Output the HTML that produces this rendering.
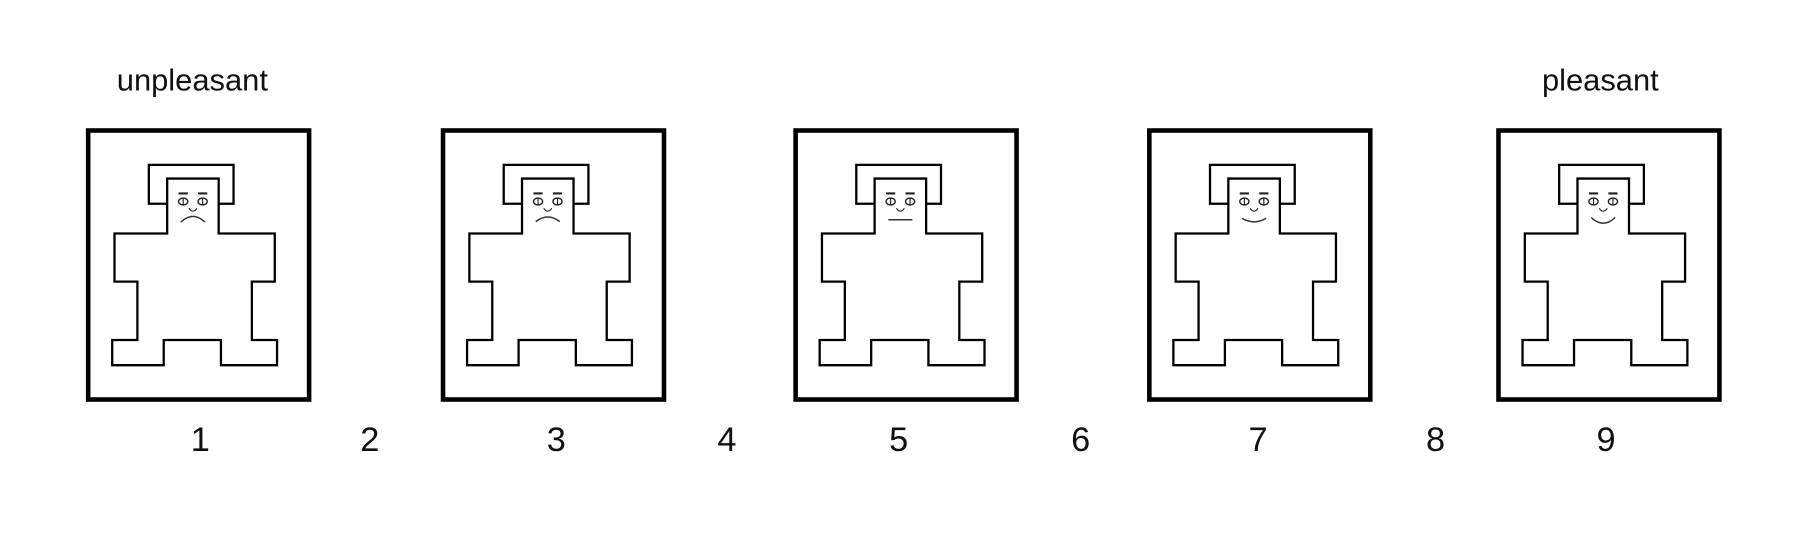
<!DOCTYPE html>
<html><head><meta charset="utf-8"><style>
html,body{margin:0;padding:0;background:#fff}
svg{display:block}
text{font-family:"Liberation Sans",sans-serif;fill:#111}
</style></head><body>
<svg id="chart" width="1795" height="556" viewBox="0 0 1568 485.7" xmlns="http://www.w3.org/2000/svg">
<text x="168" y="79" font-size="27" text-anchor="middle">unpleasant</text>
<text x="1398" y="79" font-size="27" text-anchor="middle">pleasant</text>
<g id="figs"></g>
<g id="nums"></g>
</svg>
<script>
const ratings = [1,2,3,4,5,6,7,8,9];
const ratingX = [175,323,486,635,785,944,1099,1254,1403];
const pictured = [1,3,5,7,9];
const mouthCurve = [-1,-0.8,0,0.6,1];
const boxLeft = [75,385,693,1002,1307];
const NS="http://www.w3.org/2000/svg";
const figs=document.getElementById('figs'), nums=document.getElementById('nums');
function mk(tag,attrs,parent){const e=document.createElementNS(NS,tag);for(const k in attrs)e.setAttribute(k,attrs[k]);parent.appendChild(e);return e;}
ratings.forEach((r,i)=>{
  const t=mk('text',{x:ratingX[i],y:394,'font-size':30,'text-anchor':'middle'},nums);
  t.textContent=r;
  
  
});
pictured.forEach((r,j)=>{
  const bx=boxLeft[j], by=112;
  const g=mk('g',{transform:`translate(${bx},${by})`},figs);
  
  
  mk('rect',{x:2,y:2,width:193,height:235,fill:'none',stroke:'#000','stroke-width':4},g);
  mk('path',{d:'M71,92 L25,92 L25,134 L45,134 L45,185 L23,185 L23,207 L68,207 L68,185 L118,185 L118,207 L167,207 L167,185 L145,185 L145,134 L165,134 L165,92 L116,92 L116,44 L71,44 Z',fill:'none',stroke:'#000','stroke-width':2},g);
  mk('path',{d:'M71,66 L55,66 L55,32 L129,32 L129,66 L116,66',fill:'none',stroke:'#000','stroke-width':2},g);
  mk('path',{d:'M81,57 L89,57 M98,57 L106,57',stroke:'#222','stroke-width':1.8},g);
  [85,102].forEach(ex=>{mk('ellipse',{cx:ex,cy:64,rx:4,ry:3,fill:'none',stroke:'#222','stroke-width':1.2},g);mk('line',{x1:ex,y1:61,x2:ex,y2:67,stroke:'#222','stroke-width':1},g);});
  mk('path',{d:'M90,70 Q93.5,75 97,70',fill:'none',stroke:'#222','stroke-width':1},g);
  const c=mouthCurve[j];
  mk('path',{d:`M83,${80-c*2} Q93.5,${80+c*8} 104,${80-c*2}`,fill:'none',stroke:'#333','stroke-width':1.3},g);
});
</script>
</body></html>
